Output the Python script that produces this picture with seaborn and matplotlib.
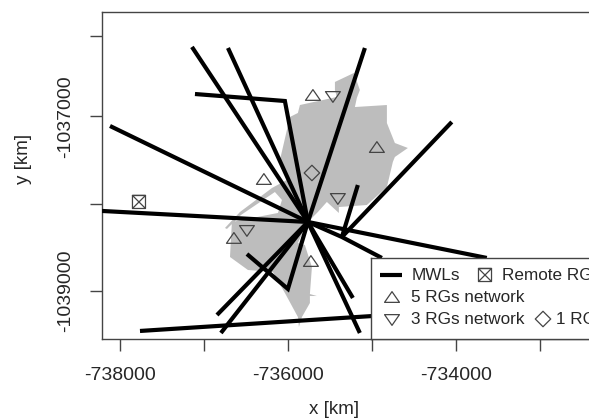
import matplotlib
matplotlib.use("Agg")
import matplotlib.pyplot as plt
import pandas as pd
import seaborn as sns
from matplotlib.path import Path

# study area outline
area_x = [-735214, -735440, -735440, -735417, -735857, -735881, -735976, -736059, -736095, -736059,
          -736012, -736190, -736571, -736750, -736726, -736559, -736155, -736071, -736119, -736667,
          -736690, -736476, -736179, -736036, -735881, -735869, -735833, -735738, -735738, -735655,
          -735738, -735714, -735798, -735881, -735774, -735643, -735536, -735393, -735393, -735060,
          -734821, -734750, -734726, -734571, -734726, -734821, -734821, -735202, -735179, -735143]
area_y = [-1036504, -1036607, -1036699, -1036779, -1036871, -1036962, -1037008, -1037352, -1037500, -1037615,
          -1037729, -1037821, -1038096, -1038279, -1038290, -1038130, -1037867, -1037958, -1038107, -1038210,
          -1038611, -1038760, -1038783, -1039023, -1039298, -1039412, -1039298, -1039138, -1039058, -1039058,
          -1039035, -1038726, -1038474, -1038451, -1038222, -1038096, -1037981, -1038107, -1038039, -1038016,
          -1037810, -1037523, -1037466, -1037363, -1037306, -1037077, -1036871, -1036894, -1036790, -1036699]

# microwave links
hub_x = -735762
hub_y = -1038210
mwl_x = [[-738119, hub_x], [-737143, hub_x], [-736714, hub_x], [-737107, -736036, hub_x],
         [-735083, hub_x], [-738214, hub_x], [hub_x, -733631], [hub_x, -735357, -734881],
         [-735167, -735357, -734048], [hub_x, -735226], [hub_x, -735143],
         [hub_x, -736000, -736488], [hub_x, -736845], [hub_x, -736798], [-737762, -734429]]
mwl_y = [[-1037111, hub_y], [-1036206, hub_y], [-1036218, hub_y], [-1036745, -1036825, hub_y],
         [-1036218, hub_y], [-1038084, hub_y], [hub_y, -1038622], [hub_y, -1038382, -1038622],
         [-1037787, -1038382, -1037065], [hub_y, -1039080], [hub_y, -1039481],
         [hub_y, -1038977, -1038577], [hub_y, -1039275], [hub_y, -1039481], [-1039458, -1039252]]

rg5_x = [-735702, -734940, -736286, -736643, -735726]
rg5_y = [-1036756, -1037352, -1037718, -1038393, -1038657]
rg3_x = [-735464, -735405, -736488]
rg3_y = [-1036779, -1037947, -1038313]
rg1_x = [-735714]
rg1_y = [-1037649]
remote_x = [-737774]
remote_y = [-1037981]

x_ticks = [-738000, -737000, -736000, -735000, -734000, -733000]
x_labels = ["-738000", "", "-736000", "", "-734000", ""]
y_ticks = [-1036081, -1037000, -1038000, -1039000]
y_labels = ["", "-1037000", "", "-1039000"]

W, H = 589, 418
DARK = "#444444"
TXT = "#262626"

up = Path([(-1, -0.72), (1, -0.72), (0, 0.72), (-1, -0.72)], closed=True)
down = Path([(-1, 0.72), (1, 0.72), (0, -0.72), (-1, 0.72)], closed=True)
# square with a cross in it
box_x = Path([(-1, -1), (1, -1), (1, 1), (-1, 1), (-1, -1), (1, 1), (-1, 1), (1, -1)])

sns.set_style("white")
plt.rcParams["font.family"] = ["Liberation Sans", "DejaVu Sans"]

fig = plt.figure(figsize=(W / 100, H / 100), dpi=100)
ax = fig.add_axes([101.7 / W, (H - 339) / H, 518 / W, 327 / H])

ax.fill(area_x, area_y, color="#bdbdbd", lw=0)

rows = []
for i, (xs, ys) in enumerate(zip(mwl_x, mwl_y)):
    for x, y in zip(xs, ys):
        rows.append({"line": i, "x": x, "y": y})
links = pd.DataFrame(rows)
sns.lineplot(data=links, x="x", y="y", units="line", estimator=None, sort=False,
             color="black", lw=3.0, legend=False, ax=ax, zorder=3,
             solid_capstyle="butt", solid_joinstyle="miter")


def rain_gauges(a, x, y, marker, s):
    sns.scatterplot(x=x, y=y, marker=marker, s=s, facecolors="none", edgecolor=DARK,
                    linewidth=0.9, ax=a, zorder=4, clip_on=False)


rain_gauges(ax, rg5_x, rg5_y, up, 115)
rain_gauges(ax, rg3_x, rg3_y, down, 115)
rain_gauges(ax, rg1_x, rg1_y, "D", 62)
rain_gauges(ax, remote_x, remote_y, box_x, 88)

ax.set_xlim(-738218, -732048)
ax.set_ylim(-1039550, -1035806)
ax.set_xticks(x_ticks, x_labels, fontsize=14, color=TXT)
ax.set_yticks(y_ticks, y_labels, fontsize=14, color=TXT, rotation=90, va="center")
ax.tick_params(axis="x", length=8.6, width=1, color=DARK, pad=11.5, bottom=True)
ax.tick_params(axis="y", length=8.6, width=1, color=DARK, pad=11, left=True)
for sp in ax.spines.values():
    sp.set_color(DARK)
    sp.set_linewidth(1)
ax.set_xlabel("")
ax.set_ylabel("")
fig.text(334 / W, 1 - 409 / H, "x [km]", fontsize=13.5, color=TXT, ha="center", va="center")
fig.text(23 / W, 1 - 159 / H, "y [km]", fontsize=13.5, color=TXT, ha="center", va="center", rotation=90)

# legend box drawn in its own pixel axes, it runs off the right edge like the original
lax = fig.add_axes([371 / W, (H - 339) / H, 249 / W, 81 / H], zorder=5)
lax.set_facecolor("white")
for sp in lax.spines.values():
    sp.set_color(DARK)
    sp.set_linewidth(1)
lax.plot([380, 402], [275, 275], color="black", lw=3.0, solid_capstyle="butt")
rain_gauges(lax, [485], [275], box_x, 88)
rain_gauges(lax, [392], [297], up, 115)
rain_gauges(lax, [392], [320], down, 115)
rain_gauges(lax, [543], [319], "D", 62)
lax.set_xlim(371, 620)
lax.set_ylim(339, 258)
lax.set_xticks([])
lax.set_yticks([])
for tx, ty, label in [(412, 275, "MWLs"), (502, 275, "Remote RGs"), (411, 297, "5 RGs network"),
                      (411, 319, "3 RGs network"), (556, 319, "1 RG")]:
    lax.text(tx, ty, label, fontsize=12.3, color=TXT, ha="left", va="center")

fig.savefig("out.png", dpi=100)
